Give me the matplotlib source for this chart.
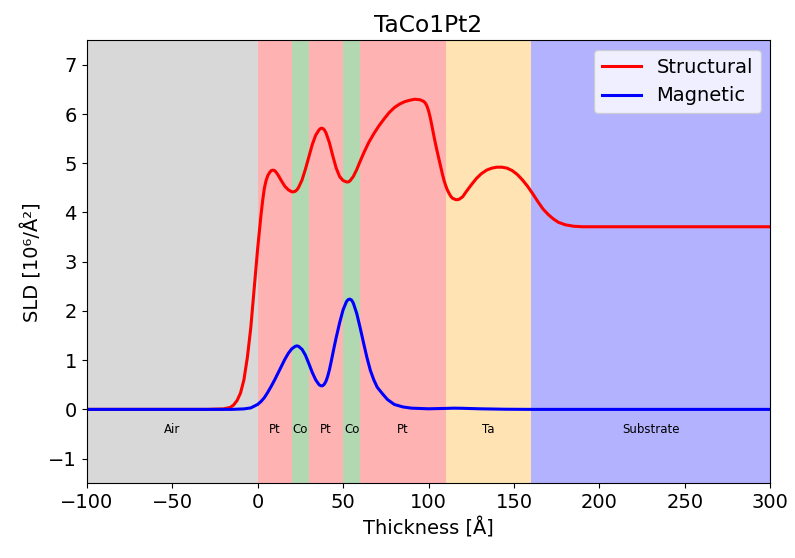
import matplotlib
matplotlib.use("Agg")
import matplotlib.pyplot as plt

# layer boundaries and names
layer_names = ["Air", "Pt", "Co", "Pt", "Co", "Pt", "Ta", "Substrate"]
layer_edges = [-100, 0, 20, 30, 50, 60, 110, 160, 300]
layer_colors = ["gray", "red", "green", "red", "green", "red", "orange", "blue"]

# structural SLD profile
struct_x = [-100, -30, -20, -16, -14, -12, -10, -8, -6, -4, -2, 0, 1, 2, 3, 4, 5, 6, 7, 8, 9,
            10, 11, 12, 14, 16, 18, 20, 21, 22, 23, 24, 26, 28, 30, 32, 34, 36, 37, 38, 39,
            40, 42, 44, 46, 48, 50, 52, 53, 54, 56, 58, 60, 62, 65, 68, 71, 74, 77, 80, 83,
            86, 89, 92, 95, 97, 98, 99, 100, 101, 102, 103, 104, 105, 106, 107, 108, 109, 110,
            111, 112, 113, 114, 116, 117, 118, 120, 122, 125, 128, 131, 134, 137, 140, 143,
            146, 149, 152, 155, 158, 161, 164, 167, 170, 173, 176, 180, 185, 190, 300]
struct_y = [0, 0, 0.01, 0.04, 0.09, 0.18, 0.33, 0.6, 1.05, 1.65, 2.45, 3.25, 3.6, 3.95, 4.25,
            4.5, 4.65, 4.75, 4.81, 4.85, 4.86, 4.85, 4.81, 4.76, 4.64, 4.53, 4.46, 4.42, 4.42,
            4.43, 4.46, 4.51, 4.66, 4.88, 5.13, 5.38, 5.57, 5.68, 5.71, 5.71, 5.68, 5.62,
            5.42, 5.15, 4.9, 4.73, 4.65, 4.62, 4.62, 4.64, 4.73, 4.87, 5.04, 5.2, 5.42, 5.6,
            5.76, 5.9, 6.03, 6.13, 6.2, 6.25, 6.28, 6.3, 6.29, 6.26, 6.23, 6.17, 6.07, 5.93,
            5.76, 5.58, 5.41, 5.25, 5.1, 4.95, 4.8, 4.66, 4.55, 4.46, 4.39, 4.33, 4.29, 4.26,
            4.26, 4.27, 4.32, 4.42, 4.56, 4.69, 4.79, 4.86, 4.9, 4.92, 4.92, 4.9, 4.85, 4.77,
            4.66, 4.53, 4.38, 4.22, 4.07, 3.96, 3.87, 3.8, 3.75, 3.72, 3.71, 3.71]

# magnetic SLD profile
mag_x = [-100, -15, -8, -4, 0, 2, 4, 6, 8, 10, 12, 14, 16, 18, 20, 22, 23, 24, 26, 28, 30, 32,
         34, 36, 37, 38, 39, 40, 41, 42, 43, 44, 45, 46, 48, 50, 52, 53, 54, 55, 56, 58, 60,
         62, 64, 66, 68, 70, 73, 76, 80, 85, 90, 100, 110, 115, 120, 130, 145, 160, 300]
mag_y = [0, 0, 0.01, 0.03, 0.1, 0.16, 0.24, 0.35, 0.47, 0.6, 0.74, 0.88, 1.02, 1.14, 1.23,
         1.28, 1.29, 1.28, 1.22, 1.1, 0.93, 0.75, 0.6, 0.5, 0.48, 0.48, 0.51, 0.57, 0.67,
         0.8, 0.96, 1.13, 1.3, 1.46, 1.76, 2.02, 2.19, 2.23, 2.24, 2.22, 2.16, 1.95, 1.66,
         1.35, 1.05, 0.79, 0.6, 0.45, 0.32, 0.2, 0.1, 0.05, 0.025, 0.012, 0.02, 0.025, 0.022,
         0.012, 0.003, 0, 0]

plt.rcParams["font.size"] = 14

fig = plt.figure(figsize=(7.95, 5.58), dpi=100)
ax = fig.add_axes([0.109, 0.134, 0.86, 0.794])

for i, name in enumerate(layer_names):
    lo, hi = layer_edges[i], layer_edges[i + 1]
    ax.axvspan(lo, hi, color=layer_colors[i], alpha=0.3, lw=0)
    ax.text((lo + hi) / 2, -0.4, name, ha="center", va="center", fontsize=8.5)

ax.plot(struct_x, struct_y, color="red", lw=2.2, label="Structural")
ax.plot(mag_x, mag_y, color="blue", lw=2.2, label="Magnetic")

ax.set_xlim(-100, 300)
ax.set_ylim(-1.5, 7.5)
ax.set_title("TaCo1Pt2")
ax.set_xlabel("Thickness [Å]")
ax.set_ylabel("SLD [10⁶/Å²]")
ax.legend(loc="upper right")

fig.savefig("out.png", dpi=100)
